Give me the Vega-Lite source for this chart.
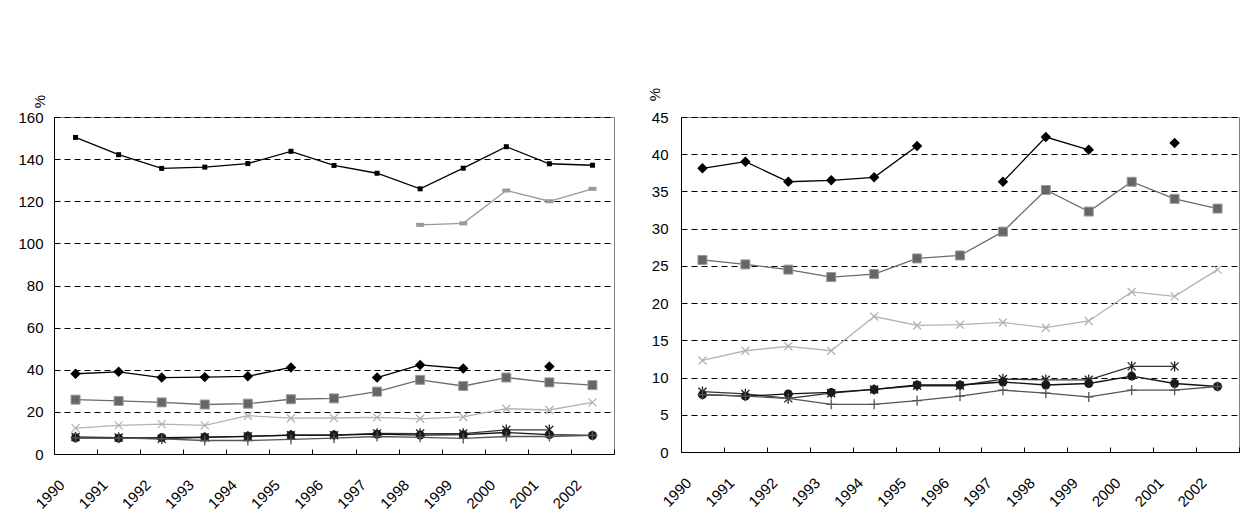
{
"$schema":"https://vega.github.io/schema/vega-lite/v6.json",
"background":"white",
"padding":{"left":17,"top":86,"right":5,"bottom":5},
"autosize":{"type":"pad"},
"bounds":"flush",
"spacing":67,
"config":{
 "font":"Liberation Sans",
 "view":{"stroke":"#808080","strokeWidth":1},
 "axis":{"labelFont":"Liberation Sans","titleFont":"Liberation Sans","labelColor":"black","titleColor":"black","domainColor":"black","tickColor":"black"}
},
"datasets":{"trade":[
{"country":"Singapore","year":1990,"value":150.3},{"country":"Singapore","year":1991,"value":142.1},{"country":"Singapore","year":1992,"value":135.6},{"country":"Singapore","year":1993,"value":136.2},{"country":"Singapore","year":1994,"value":137.9},{"country":"Singapore","year":1995,"value":143.7},{"country":"Singapore","year":1996,"value":137.0},{"country":"Singapore","year":1997,"value":133.3},{"country":"Singapore","year":1998,"value":125.9},{"country":"Singapore","year":1999,"value":135.7},{"country":"Singapore","year":2000,"value":145.9},{"country":"Singapore","year":2001,"value":137.8},{"country":"Singapore","year":2002,"value":137.1},
{"country":"Hong Kong, China","year":1998,"value":108.8},{"country":"Hong Kong, China","year":1999,"value":109.5},{"country":"Hong Kong, China","year":2000,"value":125.1},{"country":"Hong Kong, China","year":2001,"value":120.0},{"country":"Hong Kong, China","year":2002,"value":125.9},
{"country":"Chinese Taipei","year":1990,"value":38.1},{"country":"Chinese Taipei","year":1991,"value":39.0},{"country":"Chinese Taipei","year":1992,"value":36.3},{"country":"Chinese Taipei","year":1993,"value":36.5},{"country":"Chinese Taipei","year":1994,"value":36.9},{"country":"Chinese Taipei","year":1995,"value":41.1},{"country":"Chinese Taipei","year":1996,"value":null},{"country":"Chinese Taipei","year":1997,"value":36.3},{"country":"Chinese Taipei","year":1998,"value":42.3},{"country":"Chinese Taipei","year":1999,"value":40.6},{"country":"Chinese Taipei","year":2000,"value":null},{"country":"Chinese Taipei","year":2001,"value":41.5},
{"country":"Korea","year":1990,"value":25.8},{"country":"Korea","year":1991,"value":25.2},{"country":"Korea","year":1992,"value":24.5},{"country":"Korea","year":1993,"value":23.5},{"country":"Korea","year":1994,"value":23.9},{"country":"Korea","year":1995,"value":26.0},{"country":"Korea","year":1996,"value":26.4},{"country":"Korea","year":1997,"value":29.6},{"country":"Korea","year":1998,"value":35.2},{"country":"Korea","year":1999,"value":32.3},{"country":"Korea","year":2000,"value":36.3},{"country":"Korea","year":2001,"value":34.0},{"country":"Korea","year":2002,"value":32.7},
{"country":"China","year":1990,"value":12.3},{"country":"China","year":1991,"value":13.6},{"country":"China","year":1992,"value":14.2},{"country":"China","year":1993,"value":13.6},{"country":"China","year":1994,"value":18.2},{"country":"China","year":1995,"value":17.0},{"country":"China","year":1996,"value":17.1},{"country":"China","year":1997,"value":17.4},{"country":"China","year":1998,"value":16.7},{"country":"China","year":1999,"value":17.6},{"country":"China","year":2000,"value":21.5},{"country":"China","year":2001,"value":20.9},{"country":"China","year":2002,"value":24.5},
{"country":"EU","year":1990,"value":8.1},{"country":"EU","year":1991,"value":7.8},{"country":"EU","year":1992,"value":7.2},{"country":"EU","year":1993,"value":7.9},{"country":"EU","year":1994,"value":8.4},{"country":"EU","year":1995,"value":8.9},{"country":"EU","year":1996,"value":8.9},{"country":"EU","year":1997,"value":9.8},{"country":"EU","year":1998,"value":9.7},{"country":"EU","year":1999,"value":9.7},{"country":"EU","year":2000,"value":11.5},{"country":"EU","year":2001,"value":11.5},
{"country":"United States","year":1990,"value":7.7},{"country":"United States","year":1991,"value":7.5},{"country":"United States","year":1992,"value":7.8},{"country":"United States","year":1993,"value":8.0},{"country":"United States","year":1994,"value":8.4},{"country":"United States","year":1995,"value":9.0},{"country":"United States","year":1996,"value":9.0},{"country":"United States","year":1997,"value":9.4},{"country":"United States","year":1998,"value":9.0},{"country":"United States","year":1999,"value":9.2},{"country":"United States","year":2000,"value":10.2},{"country":"United States","year":2001,"value":9.2},{"country":"United States","year":2002,"value":8.8},
{"country":"Japan","year":1990,"value":7.7},{"country":"Japan","year":1991,"value":7.5},{"country":"Japan","year":1992,"value":7.2},{"country":"Japan","year":1993,"value":6.4},{"country":"Japan","year":1994,"value":6.4},{"country":"Japan","year":1995,"value":6.9},{"country":"Japan","year":1996,"value":7.5},{"country":"Japan","year":1997,"value":8.3},{"country":"Japan","year":1998,"value":7.9},{"country":"Japan","year":1999,"value":7.4},{"country":"Japan","year":2000,"value":8.3},{"country":"Japan","year":2001,"value":8.3},{"country":"Japan","year":2002,"value":8.8}
]},
"hconcat":[
{
 "width":560,"height":337,
 "data":{"name":"trade"},
 "encoding":{
  "x":{"field":"year","type":"quantitative","scale":{"domain":[1989.5,2002.5],"nice":false,"zero":false},"axis":null},
  "y":{"field":"value","type":"quantitative","scale":{"domain":[0,160],"nice":false,"zero":true},
   "axis":{"title":"%","titleAngle":270,"titleX":-15,"titleY":-16,"titleAlign":"center","titleBaseline":"middle","titleFontSize":15,"titleFontWeight":"normal","values":[0,20,40,60,80,100,120,140,160],"ticks":false,"labelPadding":11,"labelFontSize":15,"grid":true,"gridColor":"black","gridDash":[6,4],"gridWidth":1,"gridOpacity":1,"domain":true,"domainColor":"black"}}
 },
 "layer":[
  {"mark":{"type":"line","strokeWidth":1.3,"invalid":"break-paths-show-domains"},
   "encoding":{
    "x":{"field":"year","type":"quantitative","scale":{"domain":[1989.5,2002.5],"nice":false,"zero":false},
     "axis":{"orient":"bottom","values":[1989.5,1990.5,1991.5,1992.5,1993.5,1994.5,1995.5,1996.5,1997.5,1998.5,1999.5,2000.5,2001.5,2002.5],"labels":false,"ticks":true,"tickSize":-5,"tickWidth":1,"domain":true,"domainWidth":1,"grid":false,"title":null}},
    "color":{"field":"country","type":"nominal","scale":{"domain":["Singapore","Hong Kong, China","Chinese Taipei","Korea","China","EU","United States","Japan"],"range":["#000000","#999999","#000000","#6b6b6b","#b3b3b3","#333333","#111111","#555555"]},"legend":null}}},
  {"mark":{"type":"point","filled":true,"opacity":0},
   "encoding":{
    "x":{"field":"year","type":"quantitative","scale":{"domain":[1989.5,2002.5],"nice":false,"zero":false},
     "axis":{"orient":"bottom","values":[1990,1991,1992,1993,1994,1995,1996,1997,1998,1999,2000,2001,2002],"format":"d","labelAngle":-45,"labelAlign":"right","labelBaseline":"middle","labelPadding":28,"labelOffset":-14,"labelFontSize":15,"labelOverlap":false,"labelFlush":false,"labelBound":false,"ticks":false,"domain":false,"grid":false,"title":null}}}},
  {"transform":[{"filter":{"field":"country","equal":"Singapore"}}],"mark":{"type":"point","shape":"square","size":25,"filled":true,"color":"#000000","opacity":1}},
  {"transform":[{"filter":{"field":"country","equal":"Hong Kong, China"}}],"mark":{"type":"point","shape":"M-1,-0.5H1V0.5H-1Z","size":64,"filled":true,"color":"#999999","opacity":1}},
  {"transform":[{"filter":{"field":"country","equal":"Chinese Taipei"}}],"mark":{"type":"point","shape":"diamond","size":110,"filled":true,"color":"#000000","opacity":1}},
  {"transform":[{"filter":{"field":"country","equal":"Korea"}}],"mark":{"type":"point","shape":"square","size":81,"filled":true,"color":"#666666","stroke":"#9a9a9a","strokeWidth":1,"opacity":1}},
  {"transform":[{"filter":{"field":"country","equal":"China"}}],"mark":{"type":"point","shape":"M-1,-1L1,1M-1,1L1,-1","size":64,"filled":false,"color":"#b3b3b3","strokeWidth":1.3,"opacity":1}},
  {"transform":[{"filter":{"field":"country","equal":"EU"}}],"mark":{"type":"point","shape":"M-1,-1L1,1M-1,1L1,-1M0,-1.3V1.3","size":64,"filled":false,"color":"#222222","strokeWidth":1.3,"opacity":1}},
  {"transform":[{"filter":{"field":"country","equal":"United States"}}],"mark":{"type":"point","shape":"circle","size":80,"filled":true,"color":"#1a1a1a","opacity":1}},
  {"transform":[{"filter":{"field":"country","equal":"Japan"}}],"mark":{"type":"point","shape":"M-1,0H1M0,-1V1","size":100,"filled":false,"color":"#555555","strokeWidth":1.3,"opacity":1}}
 ],
 "resolve":{"axis":{"x":"independent"}}
},
{
 "width":558,"height":335,
 "data":{"name":"trade"},
 "transform":[{"filter":{"not":{"field":"country","oneOf":["Singapore","Hong Kong, China"]}}}],
 "encoding":{
  "x":{"field":"year","type":"quantitative","scale":{"domain":[1989.5,2002.5],"nice":false,"zero":false},"axis":null},
  "y":{"field":"value","type":"quantitative","scale":{"domain":[0,45],"nice":false,"zero":true},
   "axis":{"title":"%","titleAngle":270,"titleX":-27,"titleY":-23,"titleAlign":"center","titleBaseline":"middle","titleFontSize":15,"titleFontWeight":"normal","values":[0,5,10,15,20,25,30,35,40,45],"ticks":false,"labelPadding":13,"labelFontSize":15,"grid":true,"gridColor":"black","gridDash":[6,4],"gridWidth":1,"gridOpacity":1,"domain":true,"domainColor":"black"}}
 },
 "layer":[
  {"mark":{"type":"line","strokeWidth":1.3,"invalid":"break-paths-show-domains"},
   "encoding":{
    "x":{"field":"year","type":"quantitative","scale":{"domain":[1989.5,2002.5],"nice":false,"zero":false},
     "axis":{"orient":"bottom","values":[1989.5,1990.5,1991.5,1992.5,1993.5,1994.5,1995.5,1996.5,1997.5,1998.5,1999.5,2000.5,2001.5,2002.5],"labels":false,"ticks":true,"tickSize":-5,"tickWidth":1,"domain":true,"domainWidth":1,"grid":false,"title":null}},
    "color":{"field":"country","type":"nominal","scale":{"domain":["Chinese Taipei","Korea","China","EU","United States","Japan"],"range":["#000000","#6b6b6b","#b3b3b3","#333333","#111111","#555555"]},"legend":null}}},
  {"mark":{"type":"point","filled":true,"opacity":0},
   "encoding":{
    "x":{"field":"year","type":"quantitative","scale":{"domain":[1989.5,2002.5],"nice":false,"zero":false},
     "axis":{"orient":"bottom","values":[1990,1991,1992,1993,1994,1995,1996,1997,1998,1999,2000,2001,2002],"format":"d","labelAngle":-45,"labelAlign":"right","labelBaseline":"middle","labelPadding":28,"labelOffset":-14,"labelFontSize":15,"labelOverlap":false,"labelFlush":false,"labelBound":false,"ticks":false,"domain":false,"grid":false,"title":null}}}},
  {"transform":[{"filter":{"field":"country","equal":"Chinese Taipei"}}],"mark":{"type":"point","shape":"diamond","size":110,"filled":true,"color":"#000000","opacity":1}},
  {"transform":[{"filter":{"field":"country","equal":"Korea"}}],"mark":{"type":"point","shape":"square","size":81,"filled":true,"color":"#666666","stroke":"#9a9a9a","strokeWidth":1,"opacity":1}},
  {"transform":[{"filter":{"field":"country","equal":"China"}}],"mark":{"type":"point","shape":"M-1,-1L1,1M-1,1L1,-1","size":64,"filled":false,"color":"#b3b3b3","strokeWidth":1.3,"opacity":1}},
  {"transform":[{"filter":{"field":"country","equal":"EU"}}],"mark":{"type":"point","shape":"M-1,-1L1,1M-1,1L1,-1M0,-1.3V1.3","size":64,"filled":false,"color":"#222222","strokeWidth":1.3,"opacity":1}},
  {"transform":[{"filter":{"field":"country","equal":"United States"}}],"mark":{"type":"point","shape":"circle","size":80,"filled":true,"color":"#1a1a1a","opacity":1}},
  {"transform":[{"filter":{"field":"country","equal":"Japan"}}],"mark":{"type":"point","shape":"M-1,0H1M0,-1V1","size":100,"filled":false,"color":"#555555","strokeWidth":1.3,"opacity":1}}
 ],
 "resolve":{"axis":{"x":"independent"}}
}
],
"resolve":{"scale":{"color":"independent","x":"independent","y":"independent"}}
}
